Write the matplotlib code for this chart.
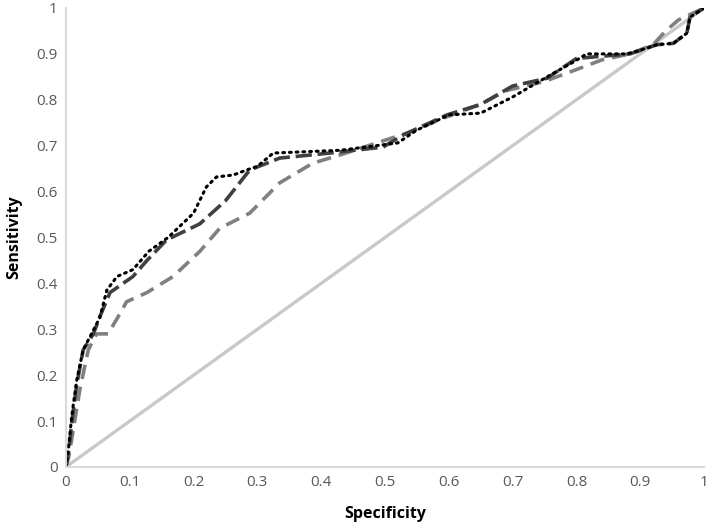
import matplotlib

matplotlib.use("Agg")

import matplotlib.pyplot as plt

# ROC curves (x = specificity axis, y = sensitivity)
dotted_x = [0, 0.004, 0.009, 0.017, 0.027, 0.04, 0.053, 0.064, 0.08, 0.105, 0.13,
            0.16, 0.2, 0.22, 0.236, 0.262, 0.283, 0.3, 0.325, 0.43, 0.52, 0.55,
            0.6, 0.65, 0.7, 0.754, 0.795, 0.816, 0.879, 0.9, 0.926, 0.952, 0.973,
            0.978, 1]
dotted_y = [0, 0.04, 0.11, 0.19, 0.255, 0.29, 0.325, 0.385, 0.415, 0.43, 0.47,
            0.5, 0.553, 0.61, 0.632, 0.636, 0.647, 0.655, 0.684, 0.69, 0.706, 0.734,
            0.767, 0.771, 0.806, 0.85, 0.882, 0.9, 0.9, 0.908, 0.92, 0.923, 0.945,
            0.98, 1]

dark_x = [0, 0.004, 0.009, 0.017, 0.027, 0.043, 0.053, 0.069, 0.105, 0.127,
          0.158, 0.2, 0.21, 0.25, 0.288, 0.335, 0.414, 0.497, 0.528, 0.597, 0.65,
          0.7, 0.754, 0.8, 0.832, 0.884, 0.926, 0.952, 0.973, 0.978, 1]
dark_y = [0, 0.03, 0.095, 0.18, 0.255, 0.29, 0.327, 0.38, 0.415, 0.45,
          0.495, 0.523, 0.53, 0.58, 0.647, 0.673, 0.684, 0.697, 0.723, 0.767, 0.79,
          0.83, 0.847, 0.89, 0.894, 0.9, 0.92, 0.923, 0.945, 0.98, 1]

light_x = [0, 0.004, 0.009, 0.022, 0.035, 0.048, 0.066, 0.085, 0.095, 0.127,
           0.168, 0.21, 0.241, 0.288, 0.335, 0.387, 0.43, 0.487, 0.54, 0.597, 0.65,
           0.69, 0.75, 0.806, 0.84, 0.884, 0.92, 0.94, 0.96, 1]
light_y = [0, 0.02, 0.06, 0.17, 0.255, 0.29, 0.29, 0.335, 0.36, 0.38,
           0.415, 0.47, 0.52, 0.553, 0.619, 0.662, 0.68, 0.706, 0.73, 0.763, 0.79,
           0.82, 0.84, 0.869, 0.887, 0.9, 0.92, 0.95, 0.974, 1]

ref_x = [0, 1]
ref_y = [0, 1]

ticks = [0, 0.1, 0.2, 0.3, 0.4, 0.5, 0.6, 0.7, 0.8, 0.9, 1]
tick_labels = ["0", "0.1", "0.2", "0.3", "0.4", "0.5", "0.6", "0.7", "0.8", "0.9", "1"]

plt.rcParams["font.family"] = ["Open Sans", "DejaVu Sans"]

fig = plt.figure(figsize=(7.09, 5.22), dpi=100)
ax = fig.add_axes([0.093, 0.1054, 0.9, 0.8793])

ax.plot(ref_x, ref_y, color="#c9c9c9", lw=2.4, solid_capstyle="butt")
ax.plot(light_x, light_y, color="#808080", lw=2.6, dashes=(4, 2.2))
ax.plot(dark_x, dark_y, color="#404040", lw=2.6, dashes=(4.5, 1.6))
ax.plot(dotted_x, dotted_y, color="#000000", lw=2.2, dashes=(0.6, 1.6),
        dash_capstyle="round")

ax.set_xlim(0, 1)
ax.set_ylim(0, 1)
ax.set_xticks(ticks)
ax.set_xticklabels(tick_labels)
ax.set_yticks(ticks)
ax.set_yticklabels(tick_labels)
ax.tick_params(length=0, labelsize=11, labelcolor="#595959", pad=6)

for side in ["top", "right"]:
    ax.spines[side].set_visible(False)
for side in ["left", "bottom"]:
    ax.spines[side].set_color("#d9d9d9")
    ax.spines[side].set_linewidth(1.5)

ax.set_xlabel("Specificity", fontsize=11.5, fontweight="bold", color="#000000", labelpad=11)
ax.set_ylabel("Sensitivity", fontsize=11.5, fontweight="bold", color="#000000", labelpad=10)

fig.savefig("out.png", dpi=100)
